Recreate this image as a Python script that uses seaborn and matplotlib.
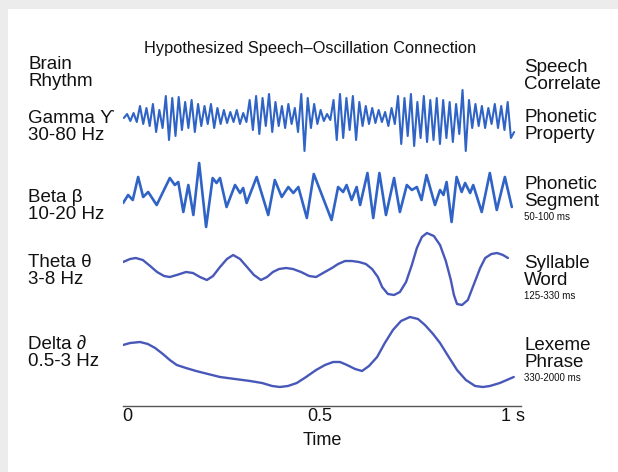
import numpy as np
import pandas as pd
import matplotlib
matplotlib.use("Agg")
import matplotlib.pyplot as plt
import seaborn as sns
from matplotlib.patches import Rectangle

# ---------------- data (amplitudes relative to each trace's centre line) ----------------
gamma_values = [0, 4, -3, 5, -4,
                12, -6, 10, -8,
                14, -14, 8, -10,
                22, -22, 20, -18, 21, -12,
                16, -10, 18, -14, 14, -8,
                12, -6, 14, -10, 10, -6, 8,
                -5, 6, -4, 8, -6, 5, -4,
                18, -12, 22, -16, 20, -8, 24, -14, 16,
                -8, 12, -10, 14, -6, 10,
                -14, 24, -33, 20,
                -10, 14, -6, 8,
                -3, 4, -2,
                18, -22, 24, -20, 20, -12, 22, -22, 16, -8, 12,
                -6, 10, -5, 8, -4, 6, -8, 10, -6,
                22, -26, 20, -18, 24, -28, 16, -20, 22, -24, 18,
                -22, 20, -26, 18, -20, 16, -24, 14,
                -16, 28, -33, 18, -10,
                14, -8, 12, -10, 10, -6, 14, -10, 12,
                -12, 16, -20, -14]
gamma_time = np.linspace(-0.008, 1.003, len(gamma_values))

beta_time = [-0.010, 0.003, 0.015, 0.029, 0.042, 0.055, 0.077, 0.111, 0.124, 0.133,
             0.146, 0.159, 0.172, 0.187, 0.205, 0.222, 0.232, 0.241, 0.258, 0.280,
             0.293, 0.301, 0.310, 0.336, 0.366, 0.383, 0.401, 0.418, 0.431, 0.444,
             0.466, 0.484, 0.530, 0.547, 0.560, 0.569, 0.582, 0.595, 0.604, 0.623,
             0.638, 0.654, 0.671, 0.692, 0.707, 0.725, 0.738, 0.751, 0.763, 0.776,
             0.798, 0.811, 0.820, 0.828, 0.841, 0.854, 0.867, 0.876, 0.889, 0.897,
             0.919, 0.940, 0.958, 0.979, 0.997]
beta_values = [-13, -5, -10, 13, -7, -2, -15, 12, 5, 8,
               -22, 5, -25, 27, -37, 12, 7, 12, -17, 5,
               -3, 2, -13, 13, -25, 10, -7, 3, -3, 3,
               -28, 16, -30, 3, -2, 5, -10, 3, -15, 17,
               -28, 17, -25, 12, -22, 5, 0, 3, -10, 15,
               -15, 0, -5, 8, -32, 13, -2, 7, -3, 5,
               -22, 17, -20, 13, -17]

theta_time = [-0.010, 0.008, 0.023, 0.041, 0.060, 0.078, 0.096, 0.111, 0.129, 0.153,
              0.171, 0.189, 0.207, 0.223, 0.241, 0.259, 0.275, 0.293, 0.311, 0.329,
              0.347, 0.363, 0.378, 0.394, 0.412, 0.430, 0.451, 0.472, 0.490, 0.508,
              0.531, 0.547, 0.565, 0.583, 0.601, 0.619, 0.635, 0.650, 0.661, 0.676,
              0.692, 0.707, 0.723, 0.738, 0.751, 0.764, 0.777, 0.795, 0.811, 0.826,
              0.839, 0.847, 0.855, 0.868, 0.883, 0.899, 0.915, 0.928, 0.944, 0.959,
              0.974, 0.987]
theta_values = [6, 9, 10, 8, 2, -4, -8, -9, -7, -4,
                -5, -9, -12, -8, 1, 9, 13, 9, 1, -7,
                -12, -9, -4, -1, 0, -1, -4, -8, -9, -5,
                0, 4, 7, 7, 6, 4, -1, -9, -19, -26,
                -27, -24, -14, 3, 20, 31, 35, 32, 23, 7,
                -12, -27, -36, -37, -32, -16, 0, 10, 14, 15,
                13, 10]

delta_time = [-0.010, 0.008, 0.034, 0.054, 0.073, 0.093, 0.111, 0.129, 0.153, 0.179,
              0.210, 0.241, 0.280, 0.319, 0.350, 0.376, 0.396, 0.417, 0.440, 0.464,
              0.490, 0.513, 0.534, 0.552, 0.570, 0.591, 0.609, 0.627, 0.648, 0.668,
              0.689, 0.710, 0.733, 0.754, 0.772, 0.793, 0.811, 0.832, 0.855, 0.878,
              0.902, 0.922, 0.940, 0.966, 0.984, 1.002]
delta_values = [7, 9, 10, 8, 4, -2, -8, -13, -16, -19,
                -22, -25, -27, -29, -31, -34, -35, -34, -31, -25,
                -18, -13, -10, -10, -13, -17, -19, -14, -5, 9,
                22, 31, 35, 33, 27, 18, 9, -4, -18, -28,
                -34, -35, -34, -31, -28, -25]

tick_values = [0, 0.5, 1]
tick_labels = ["0", "0.5", "1 s"]
left_labels = ["Gamma ϒ\n30-80 Hz", "Beta β\n10-20 Hz", "Theta θ\n3-8 Hz", "Delta ∂\n0.5-3 Hz"]
right_labels = ["Phonetic\nProperty", "Phonetic\nSegment", "Syllable\nWord", "Lexeme\nPhrase"]
right_notes = ["", "50-100 ms", "125-330 ms", "330-2000 ms"]

# ---------------- figure ----------------
sns.set_theme(style="white")
plt.rcParams["font.family"] = ["Liberation Sans", "DejaVu Sans"]

W, H = 618, 472
fig = plt.figure(figsize=(W / 100, H / 100), dpi=100, facecolor="#ececec")
fig.patches.append(Rectangle((8 / W, 0), 1 - 8 / W, 1 - 9 / H, transform=fig.transFigure,
                             facecolor="white", edgecolor="none", zorder=-10))

ax_bottom_px, ax_top_px = 406, 40
ax_left_px, ax_right_px = 123.1, 520.7
ax = fig.add_axes([ax_left_px / W, 1 - ax_bottom_px / H,
                   (ax_right_px - ax_left_px) / W, (ax_bottom_px - ax_top_px) / H])
ax.set_facecolor("none")
ax.set_zorder(5)

# y in axes is "pixels above the time axis"
centres = {"gamma": 406 - 118, "beta": 406 - 190, "theta": 406 - 268, "delta": 406 - 352}
series = [("gamma", gamma_time, gamma_values, "#2f63c6", 1.5),
          ("beta", beta_time, beta_values, "#2f63c6", 1.9),
          ("theta", theta_time, theta_values, "#4858b9", 1.7),
          ("delta", delta_time, delta_values, "#4858b9", 1.7)]
for name, t, v, col, lw in series:
    df = pd.DataFrame({"t": t, "v": np.asarray(v, dtype=float) + centres[name]})
    sns.lineplot(data=df, x="t", y="v", sort=False, estimator=None, ax=ax,
                 color=col, linewidth=lw, solid_joinstyle="round",
                 solid_capstyle="round")

ax.set_xlim(-0.01, 1.02)
ax.set_ylim(0, ax_bottom_px - ax_top_px)
for s in ["top", "left", "right"]:
    ax.spines[s].set_visible(False)
ax.spines["bottom"].set_color("#555555")
ax.spines["bottom"].set_linewidth(1.0)
ax.set_yticks([])
ax.set_xticks(tick_values)
ax.set_xticklabels(tick_labels, fontsize=13, color="#111111")
ax.tick_params(axis="x", length=0, pad=1.5)
ax.set_xlabel("Time", fontsize=13, color="#111111", labelpad=5)
ax.set_ylabel("")

def fx(px):
    return px / W

def fy(py):
    return 1 - py / H

fig.text(fx(310), fy(48), "Hypothesized Speech–Oscillation Connection", fontsize=11.8,
         ha="center", va="center", color="#111111")
fig.text(fx(28), fy(73), "Brain\nRhythm", fontsize=13.5, ha="left", va="center",
         linespacing=0.98, color="#111111")
fig.text(fx(524), fy(76), "Speech\nCorrelate", fontsize=13.5, ha="left", va="center",
         linespacing=1.05, color="#111111")

left_y = [127, 206, 271, 353]
right_y = [126, 193, 272, 354]
for lab, yy in zip(left_labels, left_y):
    fig.text(fx(28), fy(yy), lab, fontsize=13.5, ha="left", va="center",
             linespacing=0.98, color="#111111")
for lab, note, yy in zip(right_labels, right_notes, right_y):
    fig.text(fx(524), fy(yy), lab, fontsize=13.5, ha="left", va="center",
             linespacing=0.98, color="#111111")
    if note:
        fig.text(fx(524), fy(yy + 24), note, fontsize=7, ha="left", va="center",
                 color="#111111")

fig.savefig("out.png", dpi=100, facecolor=fig.get_facecolor())
